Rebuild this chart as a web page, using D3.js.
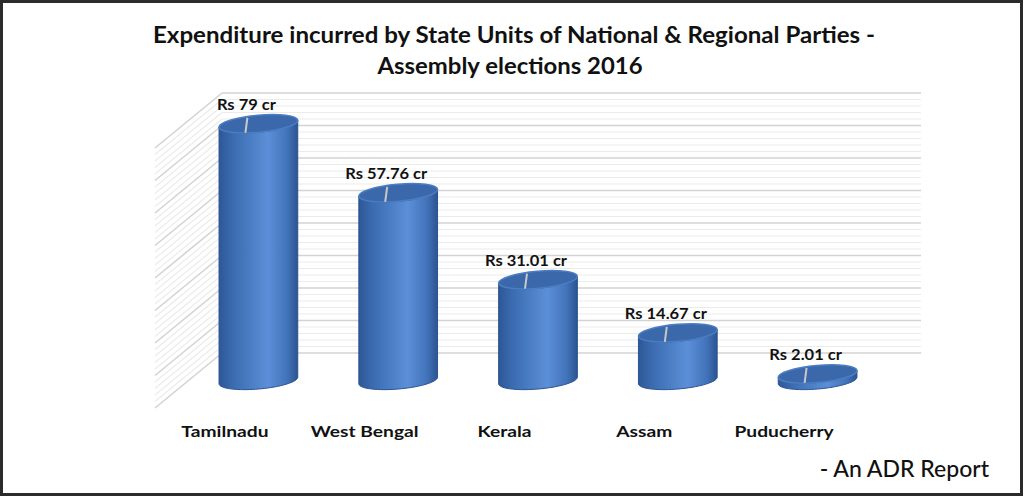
<!DOCTYPE html>
<html>
<head>
<meta charset="utf-8">
<script src="https://cdn.jsdelivr.net/npm/d3@7"></script>
<style>
    body { margin: 0; background: #fff; }
    svg { display: block; }
    text { font-family: Lato, "Open Sans", sans-serif; fill: #111; }
</style>
</head>
<body>
<svg id="chart"></svg>
<script>
// data
const states = ['Tamilnadu', 'West Bengal', 'Kerala', 'Assam', 'Puducherry'];
const spend = [79, 57.76, 31.01, 14.67, 2.01];
const valueLabels = ['Rs 79 cr', 'Rs 57.76 cr', 'Rs 31.01 cr', 'Rs 14.67 cr', 'Rs 2.01 cr'];
const titleLines = ['Expenditure incurred by State Units of National & Regional Parties -', 'Assembly elections 2016'];
const yMax = 80;

// widen text a bit, the original font runs wider than Lato
function stretch(sel, k) {
    sel.each(function () {
        const w = this.getComputedTextLength();
        d3.select(this).attr('textLength', w * k).attr('lengthAdjust', 'spacingAndGlyphs');
    });
}

class CylinderChart {
    constructor (config) {
        this.config = {
            parent: config.parent,
            width: config.width || 1024,
            height: config.height || 498,
            wall: config.wall,        // back wall in screen px
            depth: config.depth,      // offset from back to front plane
            rx: config.rx || 39,
            ry: config.ry || 8,
            tilt: config.tilt || -5   // degrees
        };
        this.init();
    }

    init() {
        let self = this;
        const c = self.config;

        self.svg = d3.select(c.parent)
            .attr('width', c.width)
            .attr('height', c.height);

        self.x = d3.scaleBand()
            .domain(states)
            .range([c.wall.left, c.wall.right]);

        self.y = d3.scaleLinear()
            .domain([0, yMax])
            .range([c.wall.bottom, c.wall.top]);

        const grad = self.svg.append('defs').append('linearGradient')
            .attr('id', 'body')
            .attr('x1', 0).attr('x2', 1).attr('y1', 0).attr('y2', 0);
        [['0%', '#2d5896'], ['18%', '#3b6cb1'], ['62%', '#5b8fd7'], ['86%', '#4374bb'], ['100%', '#2b5491']]
            .forEach(([o, col]) => grad.append('stop').attr('offset', o).attr('stop-color', col));

        self.render();
    }

    // point on the tilted ellipse at parameter t
    pt(cx, cy, t) {
        const c = this.config;
        const th = c.tilt * Math.PI / 180;
        return [
            cx + c.rx * Math.cos(t) * Math.cos(th) - c.ry * Math.sin(t) * Math.sin(th),
            cy + c.rx * Math.cos(t) * Math.sin(th) + c.ry * Math.sin(t) * Math.cos(th)
        ];
    }

    bodyPoints(d) {
        const c = this.config;
        const th = c.tilt * Math.PI / 180;
        // parameter of the right-hand vertical tangent
        const t0 = Math.atan2(-c.ry * Math.sin(th), c.rx * Math.cos(th));
        const n = 40;
        const pts = [];
        // bottom front half, left to right
        for (let k = 0; k <= n; k++) pts.push(this.pt(d.cx, d.bottom, t0 + Math.PI - Math.PI * k / n));
        // top front half, right to left
        for (let k = 0; k <= n; k++) pts.push(this.pt(d.cx, d.top, t0 + Math.PI * k / n));
        return pts;
    }

    render() {
        let self = this;
        const c = self.config;
        const g = self.svg.append('g');

        // gridlines every 2, heavier every 10
        const ticks = d3.range(0, yMax + 0.1, 2);
        const major = v => v % 10 === 0;

        g.selectAll('.hgrid')
            .data(ticks)
            .join('line')
            .attr('x1', c.wall.left).attr('x2', c.wall.right)
            .attr('y1', d => self.y(d)).attr('y2', d => self.y(d))
            .attr('stroke', d => major(d) ? '#d3d3d3' : '#ebebeb')
            .attr('stroke-width', d => major(d) ? 1.6 : 1.1);

        g.selectAll('.sgrid')
            .data(ticks)
            .join('line')
            .attr('x1', c.wall.left).attr('y1', d => self.y(d))
            .attr('x2', c.wall.left + c.depth.dx).attr('y2', d => self.y(d) + c.depth.dy)
            .attr('stroke', d => major(d) ? '#d3d3d3' : '#ebebeb')
            .attr('stroke-width', d => major(d) ? 1.6 : 1.1);

        // cylinders sit halfway between back and front
        const mx = c.depth.dx / 2, my = c.depth.dy / 2;
        const bars = states.map((s, i) => {
            const cx = self.x(s) + self.x.bandwidth() / 2 + mx;
            return { cx, top: self.y(spend[i]) + my, bottom: self.y(0) + my, label: valueLabels[i] };
        });

        const line = d3.line();

        const bar = g.selectAll('.bar')
            .data(bars)
            .join('g');

        bar.append('path')
            .attr('d', d => line(self.bodyPoints(d)) + 'Z')
            .attr('fill', 'url(#body)')
            .attr('stroke', '#2a5290')
            .attr('stroke-width', 1);

        bar.append('ellipse')
            .attr('cx', d => d.cx).attr('cy', d => d.top)
            .attr('rx', c.rx).attr('ry', c.ry)
            .attr('transform', d => `rotate(${c.tilt},${d.cx},${d.top})`)
            .attr('fill', '#3a68ab')
            .attr('stroke', '#4b7dc3')
            .attr('stroke-width', 1.5);

        // leader lines
        bar.append('line')
            .attr('x1', d => d.cx - 13).attr('y1', d => d.top + 9)
            .attr('x2', d => d.cx - 11).attr('y2', d => d.top - 6)
            .attr('stroke', '#c8c8c8')
            .attr('stroke-width', 2);

        bar.append('text')
            .attr('x', d => d.cx - 12)
            .attr('y', d => d.top - 14)
            .attr('text-anchor', 'middle')
            .style('font-size', '15px')
            .style('font-weight', 700)
            .text(d => d.label)
            .call(stretch, 1.1);

        // category labels on the front edge
        g.selectAll('.cat')
            .data(states)
            .join('text')
            .attr('x', d => self.x(d) + self.x.bandwidth() / 2 + c.depth.dx)
            .attr('y', 437)
            .attr('text-anchor', 'middle')
            .style('font-size', '16px')
            .style('font-weight', 700)
            .text(d => d)
            .call(stretch, 1.2);
    }
}

const chart = new CylinderChart({
    parent: '#chart',
    width: 1024,
    height: 498,
    wall: { left: 222, right: 921, top: 93, bottom: 353 },
    depth: { dx: -67, dy: 55 },
    rx: 39.5,
    ry: 8.5,
    tilt: -5
});

const svg = d3.select('#chart');

svg.selectAll('.title')
    .data(titleLines)
    .join('text')
    .attr('x', (d, i) => i === 0 ? 514 : 510)
    .attr('y', (d, i) => 43 + i * 30.5)
    .attr('text-anchor', 'middle')
    .attr('textLength', (d, i) => i === 0 ? 722 : 265)
    .attr('lengthAdjust', 'spacingAndGlyphs')
    .style('font-size', '22px')
    .style('font-weight', 700)
    .text(d => d);

svg.append('text')
    .attr('x', 989)
    .attr('y', 477)
    .attr('text-anchor', 'end')
    .style('font-size', '23px')
    .style('font-weight', 500)
    .text('- An ADR Report');

svg.append('rect')
    .attr('x', 1.5).attr('y', 1.5)
    .attr('width', 1020).attr('height', 493)
    .attr('fill', 'none')
    .attr('stroke', '#2b2b2b')
    .attr('stroke-width', 3);
</script>
</body>
</html>
